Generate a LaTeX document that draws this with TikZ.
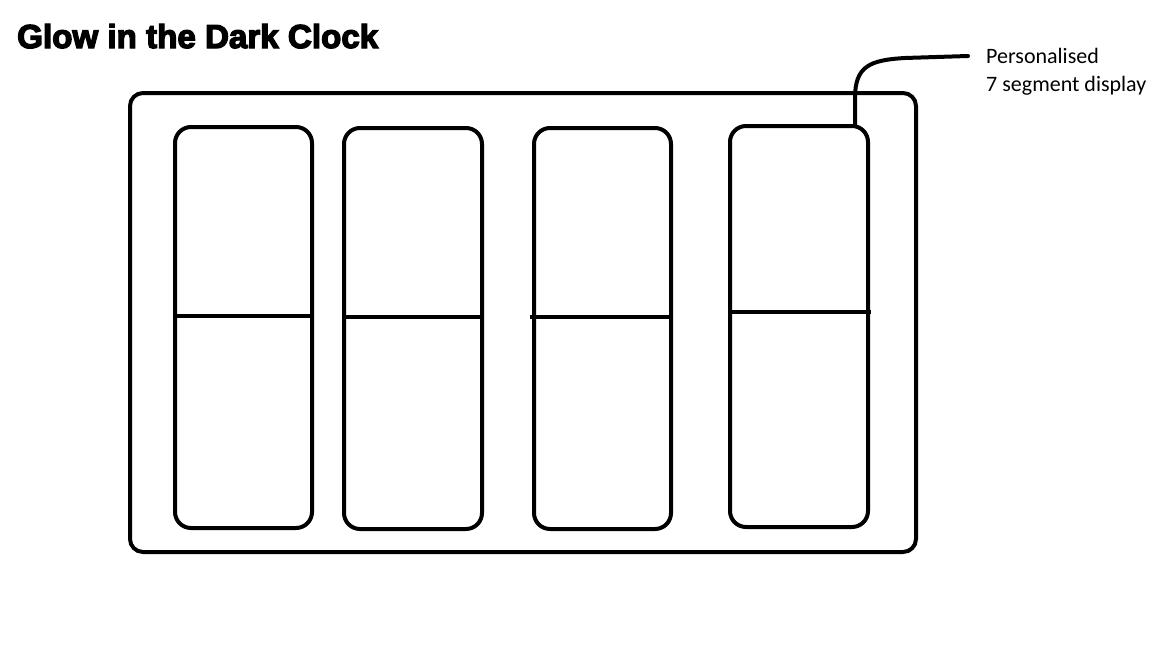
\documentclass[tikz,border=0pt]{standalone}
\usepackage{fontspec}
\setmainfont{Carlito}
\newfontfamily\titlefont[FakeBold=4]{Liberation Sans Bold}
\begin{document}
\begin{tikzpicture}[x=1pt,y=-1pt,
  frame/.style={draw=black,line width=4pt,rounded corners=13pt},
  digit/.style={draw=black,line width=4pt,rounded corners=16pt},
  midline/.style={draw=black,line width=4pt},
  leader/.style={draw=black,line width=4pt,line cap=round}]
\useasboundingbox[fill=white] (0,0) rectangle (1152,648);
% title
\node[anchor=base west,inner sep=0pt] (title) at (17,48)
  {\resizebox{361pt}{!}{\titlefont\fontsize{30pt}{30pt}\selectfont Glow in the Dark Clock}};
% outer case
\draw[frame] (130,93) rectangle (916,552);
% digits
\draw[digit] (175,127) rectangle (312,528);
\draw[digit] (344,128) rectangle (482,529);
\draw[digit] (534,128) rectangle (671,529);
\draw[digit] (730,126) rectangle (868,527);
\coordinate (m1a) at (175,316); \coordinate (m1b) at (312,316);
\coordinate (m2a) at (342,317); \coordinate (m2b) at (482,317);
\coordinate (m3a) at (530,317); \coordinate (m3b) at (671,317);
\coordinate (m4a) at (730,312); \coordinate (m4b) at (871,312);
\draw[midline] (m1a) -- (m1b);
\draw[midline] (m2a) -- (m2b);
\draw[midline] (m3a) -- (m3b);
\draw[midline] (m4a) -- (m4b);
% label
\node[anchor=north west,inner sep=0pt,align=left,font=\fontsize{22pt}{28pt}\selectfont] (lbl) at (986,48)
  {Personalised\\7 segment display};
\coordinate (ls) at (855,126);
\coordinate (le) at (968,56);
\draw[leader] (ls) -- (855,98) .. controls (855,66) and (870,60) .. (905,58) -- (le);
\end{tikzpicture}
\end{document}
